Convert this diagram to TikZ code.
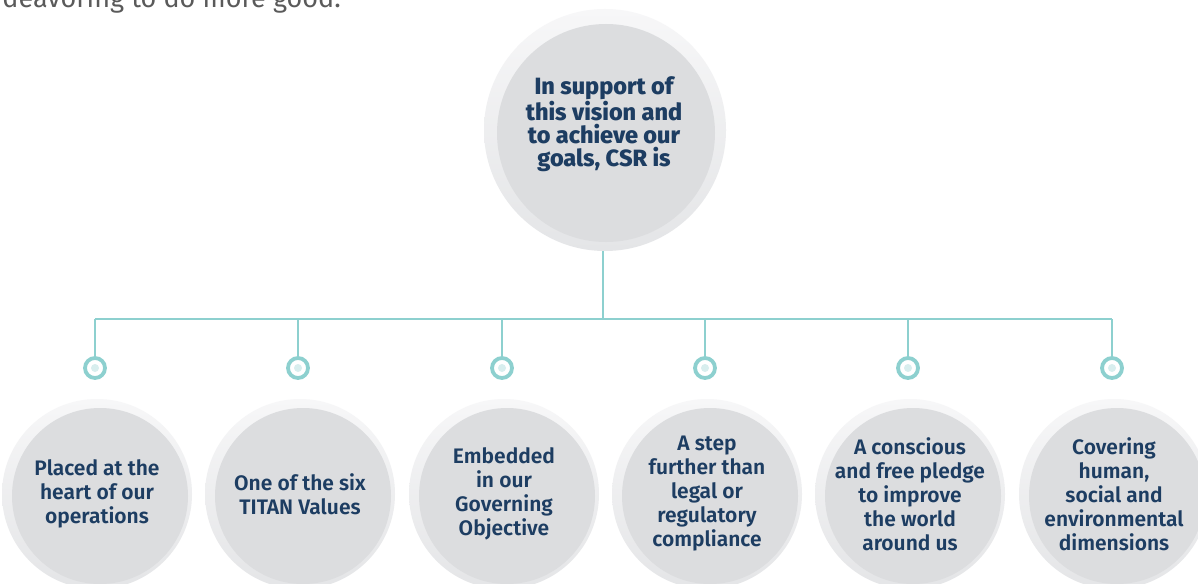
\documentclass[tikz,border=0pt]{standalone}
\usepackage{fontspec}
\setmainfont{Fira Sans}
\newfontfamily\semib{Fira Sans SemiBold}
\newfontfamily\xbold{Fira Sans ExtraBold}
\definecolor{navy}{HTML}{1D3D62}
\definecolor{teal}{HTML}{8DD0CF}
\definecolor{dotfill}{HTML}{D8EEEE}
\definecolor{innergrey}{HTML}{DCDDDF}
\definecolor{ringlight}{HTML}{F7F7F8}
\definecolor{ringdark}{HTML}{E4E5E7}
\definecolor{greytext}{HTML}{5A5A5A}
\tikzset{
  ringouter/.style={shading=axis, left color=ringlight, right color=ringdark, shading angle=0},
  innerdisc/.style={fill=innergrey},
  conn/.style={draw=teal, line width=1.6pt},
  marker/.style={circle, draw=teal, line width=3.8pt, fill=white, minimum size=20pt, inner sep=0pt},
  markerdot/.style={circle, fill=dotfill, minimum size=8pt, inner sep=0pt},
  toptext/.style={text=navy, align=center, font=\xbold\fontsize{23.5}{23}\selectfont},
  leaf/.style={text=navy, align=center, font=\semib\fontsize{21}{24}\selectfont},
}
\begin{document}
\begin{tikzpicture}[x=1pt,y=-1pt]
\useasboundingbox (0,0) rectangle (1198,583);
\clip (0,0) rectangle (1198,583);
\fill[white] (0,0) rectangle (1198,583);
% cut-off sentence at top
\node[anchor=base east, inner sep=0pt, text=greytext, font=\fontsize{27}{30}\selectfont] (intro) at (341,8) {endeavoring to do more good.};
% top circle
\shade[ringouter] (605,130) circle (121);
\fill[innerdisc] (606,133) circle (109);
\node[toptext] (top) at (604,124) {In support of\\this vision and\\to achieve our\\goals, CSR is};
\coordinate (topbot) at (603,251);
\coordinate (bus) at (603,319);
\coordinate (busL) at (95,319);
\coordinate (busR) at (1112,319);
\draw[conn] (topbot) -- (bus);
\draw[conn] (busL) -- (busR);
% bottom circles
\foreach \i/\x/\txt in {
  1/95/{Placed at the\\heart of our\\operations},
  2/298/{One of the six\\TITAN Values},
  3/502/{Embedded\\in our\\Governing\\Objective},
  4/705/{A step\\further than\\legal or\\regulatory\\compliance},
  5/908/{A conscious\\and free pledge\\to improve\\the world\\around us},
  6/1112/{Covering\\human,\\social and\\environmental\\dimensions}} {
  \coordinate (drop\i) at (\x,319);
  \node[marker] (m\i) at (\x,368) {};
  \node[markerdot] at (m\i) {};
  \draw[conn] (drop\i) -- (m\i.north);
  \shade[ringouter] (\x+2,494) circle (95);
  \fill[innerdisc] (\x+5,496) circle (88);
  \node[leaf] (leaf\i) at (\x+2,494) {\txt};
}
\end{tikzpicture}
\end{document}
